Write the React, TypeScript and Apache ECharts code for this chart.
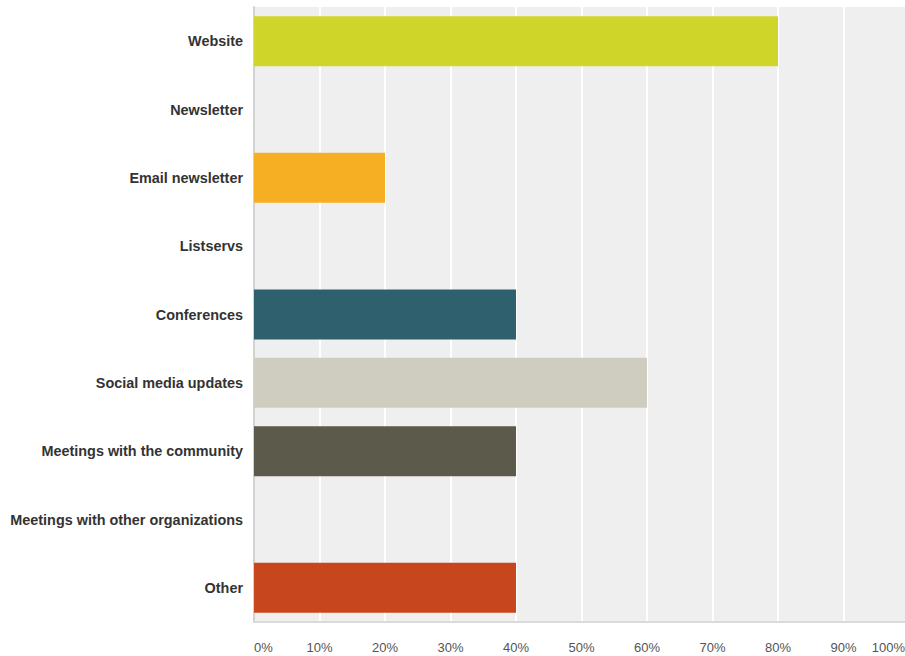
import React, { useEffect, useRef } from "react";
import * as echarts from "echarts";

const categories = [
  "Website",
  "Newsletter",
  "Email newsletter",
  "Listservs",
  "Conferences",
  "Social media updates",
  "Meetings with the community",
  "Meetings with other organizations",
  "Other",
];
const values = [80, 0, 20, 0, 40, 60, 40, 0, 40];
const barColors = [
  "#d0d52a",
  "#6a9fb5",
  "#f6ae22",
  "#999999",
  "#2e606e",
  "#cfcdc0",
  "#5c5a4b",
  "#888888",
  "#c8461d",
];
const tickValues = [0, 10, 20, 30, 40, 50, 60, 70, 80, 90, 100];

export default function App() {
  const ref = useRef<HTMLDivElement>(null);
  useEffect(() => {
    if (!ref.current) return;
    const chart = echarts.init(ref.current, undefined, { renderer: "svg" });
    chart.setOption({
      animation: false,
      grid: {
        left: 254,
        right: 0,
        top: 7,
        bottom: 34,
        show: true,
        backgroundColor: "#efefef",
        borderWidth: 0,
      },
      xAxis: {
        type: "value",
        min: tickValues[0],
        max: tickValues[tickValues.length - 1],
        interval: 10,
        axisLine: { show: true, onZero: false, lineStyle: { color: "#dadada", width: 2 } },
        axisTick: { show: false },
        splitLine: { show: true, lineStyle: { color: "#ffffff", width: 2 } },
        axisLabel: {
          color: "#555555",
          fontSize: 13,
          fontFamily: "Liberation Sans, Arial, sans-serif",
          margin: 19,
          alignMinLabel: "left",
          alignMaxLabel: "right",
          formatter: (v: number) => (v === 100 ? "{last|100%}" : v + "%"),
          rich: {
            last: {
              color: "#555555",
              fontSize: 13,
              fontFamily: "Liberation Sans, Arial, sans-serif",
              padding: [0, 4, 0, 0],
            },
          },
        },
      },
      yAxis: {
        type: "category",
        data: categories,
        inverse: true,
        axisLine: { show: true, lineStyle: { color: "#d2d2d2", width: 2 } },
        axisTick: { show: false },
        splitLine: { show: false },
        axisLabel: {
          color: "#333333",
          fontSize: 14.4,
          fontWeight: "bold",
          fontFamily: "Liberation Sans, Arial, sans-serif",
          margin: 11,
        },
      },
      series: [
        {
          type: "bar",
          barWidth: 50,
          data: values.map((v, i) => ({ value: v, itemStyle: { color: barColors[i] } })),
        },
      ],
    });
    return () => chart.dispose();
  }, []);
  return (
    <div
      style={{
        position: "absolute",
        left: 0,
        top: 0,
        width: 905,
        height: 656,
        overflow: "hidden",
        background: "#ffffff",
      }}
    >
      <div ref={ref} style={{ width: 909, height: 656 }} />
    </div>
  );
}
